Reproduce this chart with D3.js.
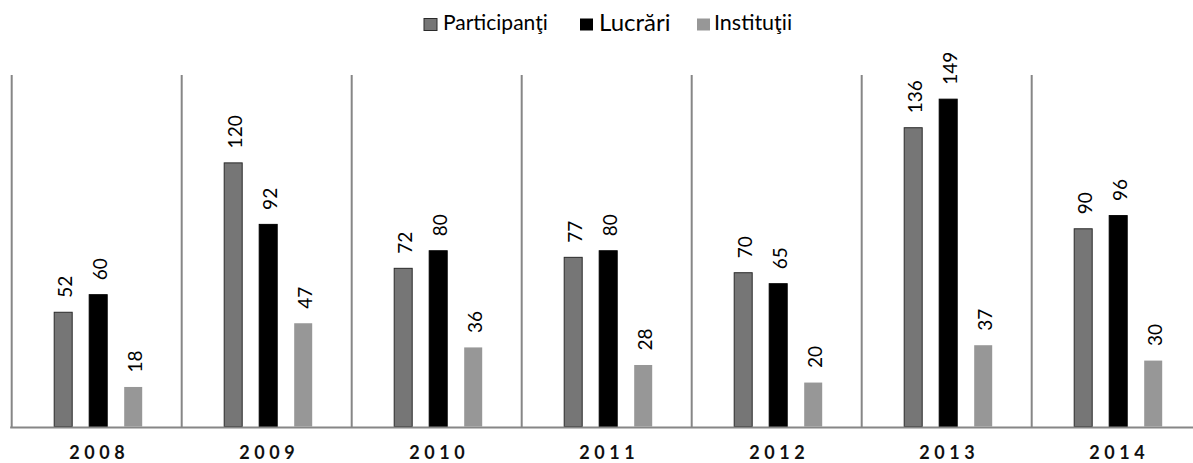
<!DOCTYPE html>
<html>
<head>
<meta charset="utf-8">
<script src="https://cdn.jsdelivr.net/npm/d3@7/dist/d3.min.js"></script>
<style>
  html, body { margin: 0; padding: 0; background: #fff; }
  svg { display: block; }
  text { font-family: Lato, "Open Sans", sans-serif; }
</style>
</head>
<body>
<script>
// Conference statistics per year
const years = ["2008", "2009", "2010", "2011", "2012", "2013", "2014"];
const seriesNames = ["Participanţi", "Lucrări", "Instituţii"];
const participanti = [52, 120, 72, 77, 70, 136, 90];
const lucrari = [60, 92, 80, 80, 65, 149, 96];
const institutii = [18, 47, 36, 28, 20, 37, 30];
const yMax = 160;

const seriesValues = [participanti, lucrari, institutii];
const fills = ["#767676", "#000000", "#979797"];
const strokes = ["#2a2a2a", "#000000", "none"];

const W = 1193, H = 463;
const svg = d3.select("body").append("svg").attr("width", W).attr("height", H);

const left = 11.7, catW = 170;
const x = d3.scaleBand().domain(years).range([left, left + catW * years.length]).paddingInner(0).paddingOuter(0);
const xs = d3.scalePoint().domain(seriesNames).range([-34.5, 35.5]);
const y = d3.scaleLinear().domain([0, yMax]).range([426.5, 75]);
const barW = 18;
const cx = yr => x(yr) + x.bandwidth() / 2 + 1;

// category separators
svg.append("g").selectAll("line")
  .data(years)
  .join("line")
  .attr("x1", d => x(d)).attr("x2", d => x(d))
  .attr("y1", y(yMax)).attr("y2", 428)
  .attr("stroke", "#868686").attr("stroke-width", 2);

// bars with rotated value labels
const groups = svg.append("g").selectAll("g")
  .data(seriesNames)
  .join("g");

groups.each(function(name, si) {
  const g = d3.select(this);
  const rows = years.map((yr, i) => ({ yr, v: seriesValues[si][i] }));
  g.selectAll("rect")
    .data(rows)
    .join("rect")
    .attr("x", d => cx(d.yr) + xs(name) - barW / 2)
    .attr("width", barW)
    .attr("y", d => y(d.v))
    .attr("height", d => y(0) - y(d.v))
    .attr("fill", fills[si])
    .attr("stroke", strokes[si])
    .attr("stroke-width", strokes[si] === "none" ? 0 : 1);
  g.selectAll("text")
    .data(rows)
    .join("text")
    .attr("transform", d => `translate(${cx(d.yr) + xs(name) + 8.5},${y(d.v) - 14.5}) rotate(-90)`)
    .attr("text-anchor", "start")
    .attr("font-size", 19)
    .attr("fill", "#000")
    .text(d => d.v);
});

// x axis
const xAxis = svg.append("g")
  .attr("transform", `translate(0,427.5)`)
  .call(d3.axisBottom(x).tickSize(0).tickPadding(19));
xAxis.select(".domain").attr("stroke", "#868686").attr("stroke-width", 2)
  .attr("d", `M${left - 1.5},0H${W}`);
xAxis.selectAll("text")
  .attr("font-size", 18)
  .attr("font-weight", "bold")
  .attr("letter-spacing", "4.5px")
  .attr("dx", "2.5px")
  .attr("fill", "#111")
  .style("font-family", "Lato, sans-serif");

// legend
const legendItems = [
  { name: seriesNames[0], sx: 424, tx: 443, size: 21, base: 30 },
  { name: seriesNames[1], sx: 580, tx: 599, size: 24, base: 31 },
  { name: seriesNames[2], sx: 697, tx: 714, size: 21.5, base: 30 }
];
const legend = svg.append("g");
legendItems.forEach((it, i) => {
  legend.append("rect")
    .attr("x", it.sx).attr("y", 18.5).attr("width", 13).attr("height", 12)
    .attr("fill", fills[i])
    .attr("stroke", i === 0 ? "#2a2a2a" : "none").attr("stroke-width", 1);
  legend.append("text")
    .attr("x", it.tx).attr("y", it.base)
    .attr("font-size", it.size)
    .attr("fill", "#000")
    .text(it.name);
});
</script>
</body>
</html>
